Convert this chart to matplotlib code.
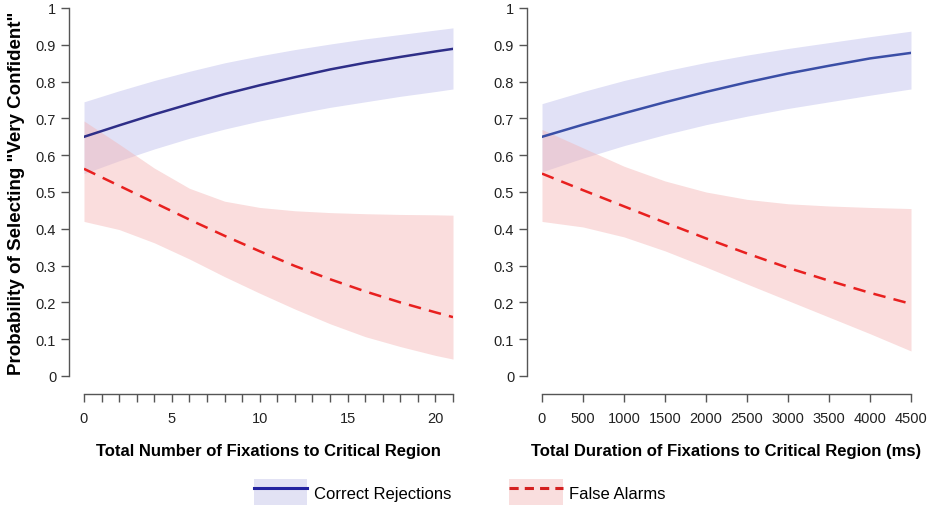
import numpy as np
import matplotlib
matplotlib.use("Agg")
from matplotlib import pyplot as plt
from matplotlib.patches import Patch
from matplotlib.lines import Line2D

plt.rcParams['font.family'] = ['Liberation Sans', 'DejaVu Sans']

# left panel: number of fixations
fix_n = [0, 2, 4, 6, 8, 10, 12, 14, 16, 18, 20, 21]
cr_fit_n = [0.650, 0.681, 0.711, 0.739, 0.766, 0.790, 0.812, 0.833, 0.851, 0.867, 0.882, 0.889]
cr_hi_n = [0.745, 0.775, 0.803, 0.828, 0.851, 0.870, 0.887, 0.902, 0.916, 0.928, 0.940, 0.946]
cr_lo_n = [0.550, 0.585, 0.617, 0.646, 0.671, 0.693, 0.712, 0.730, 0.745, 0.760, 0.773, 0.780]
fa_fit_n = [0.563, 0.517, 0.471, 0.425, 0.381, 0.339, 0.299, 0.263, 0.230, 0.200, 0.173, 0.160]
fa_hi_n = [0.693, 0.630, 0.565, 0.510, 0.475, 0.458, 0.449, 0.444, 0.441, 0.439, 0.438, 0.437]
fa_lo_n = [0.420, 0.398, 0.362, 0.318, 0.270, 0.225, 0.182, 0.142, 0.107, 0.080, 0.056, 0.046]

# right panel: total duration (ms)
dur = [0, 500, 1000, 1500, 2000, 2500, 3000, 3500, 4000, 4500]
cr_fit_d = [0.650, 0.683, 0.714, 0.744, 0.772, 0.798, 0.822, 0.843, 0.863, 0.878]
cr_hi_d = [0.740, 0.773, 0.803, 0.829, 0.852, 0.872, 0.890, 0.906, 0.922, 0.937]
cr_lo_d = [0.555, 0.592, 0.626, 0.656, 0.683, 0.706, 0.727, 0.745, 0.763, 0.780]
fa_fit_d = [0.550, 0.505, 0.461, 0.417, 0.374, 0.333, 0.294, 0.259, 0.226, 0.196]
fa_hi_d = [0.670, 0.620, 0.570, 0.530, 0.500, 0.480, 0.468, 0.462, 0.458, 0.455]
fa_lo_d = [0.420, 0.405, 0.378, 0.340, 0.296, 0.250, 0.205, 0.160, 0.115, 0.068]

yticks = [0, 0.1, 0.2, 0.3, 0.4, 0.5, 0.6, 0.7, 0.8, 0.9, 1]
ytick_labels = ['0', '0.1', '0.2', '0.3', '0.4', '0.5', '0.6', '0.7', '0.8', '0.9', '1']

blue_fill = '#b4b4ea'
red_fill = '#f4b4b4'
red_line = '#e8201f'
axis_col = '#555555'

W, H = 929, 506
fig = plt.figure(figsize=(W / 100, H / 100), dpi=100)

ax1 = fig.add_axes([84 / W, 1 - 377 / H, 369 / W, 368 / H])
ax2 = fig.add_axes([542 / W, 1 - 377 / H, 369 / W, 368 / H])


def draw_panel(ax, x, cr_fit, cr_lo, cr_hi, fa_fit, fa_lo, fa_hi, lcol):
    ax.fill_between(x, cr_lo, cr_hi, color=blue_fill, alpha=0.4, lw=0)
    ax.fill_between(x, fa_lo, fa_hi, color=red_fill, alpha=0.45, lw=0)
    ax.plot(x, cr_fit, '-', color=lcol, lw=1.8)
    ax.plot(x, fa_fit, '--', color=red_line, lw=1.8, dashes=(5, 3.3))
    ax.set_ylim(0, 1)
    ax.set_yticks(yticks)
    ax.set_yticklabels(ytick_labels, rotation=90, va='center')
    for s in ['top', 'right']:
        ax.spines[s].set_visible(False)
    ax.spines['left'].set_position(('outward', 11))
    ax.spines['bottom'].set_position(('outward', 13))
    ax.spines['left'].set_bounds(0, 1)
    for s in ['left', 'bottom']:
        ax.spines[s].set_color(axis_col)
        ax.spines[s].set_linewidth(1.0)
    ax.tick_params(axis='both', length=6, width=1.0, color=axis_col,
                   labelsize=10.5, labelcolor='#222222')
    ax.tick_params(axis='y', pad=3)
    ax.tick_params(axis='x', pad=6)


draw_panel(ax1, fix_n, cr_fit_n, cr_lo_n, cr_hi_n, fa_fit_n, fa_lo_n, fa_hi_n, '#2e2e88')
ax1.set_xlim(0, 21)
ax1.set_xticks(range(0, 22))
ax1.set_xticklabels([str(i) if i % 5 == 0 else '' for i in range(0, 22)])
ax1.spines['bottom'].set_bounds(0, 21)
ax1.set_xlabel('Total Number of Fixations to Critical Region', fontweight='bold',
               fontsize=12, labelpad=13)
ax1.set_ylabel('Probability of Selecting "Very Confident"', fontweight='bold',
               fontsize=13.5, labelpad=8)

draw_panel(ax2, dur, cr_fit_d, cr_lo_d, cr_hi_d, fa_fit_d, fa_lo_d, fa_hi_d, '#3a4ea6')
ax2.set_xlim(0, 4500)
ax2.set_xticks(dur)
ax2.spines['bottom'].set_bounds(0, 4500)
ax2.set_xlabel('Total Duration of Fixations to Critical Region (ms)', fontweight='bold',
               fontsize=12, labelpad=13)

handles = [
    (Patch(facecolor='#e2e2f4', edgecolor='none'), Line2D([], [], color='#2424a0', lw=2.2)),
    (Patch(facecolor='#f9dede', edgecolor='none'), Line2D([], [], color='#d42020', lw=2.2, ls='--', dashes=(3, 2))),
]
fig.legend(handles, ['Correct Rejections', 'False Alarms'], loc='lower center',
           bbox_to_anchor=(0.495, -0.002), ncol=2, frameon=False, fontsize=12,
           handlelength=3.2, handleheight=2.15, handletextpad=0.4, columnspacing=3.5,
           borderpad=0, borderaxespad=0)

fig.savefig('out.png', dpi=100)
